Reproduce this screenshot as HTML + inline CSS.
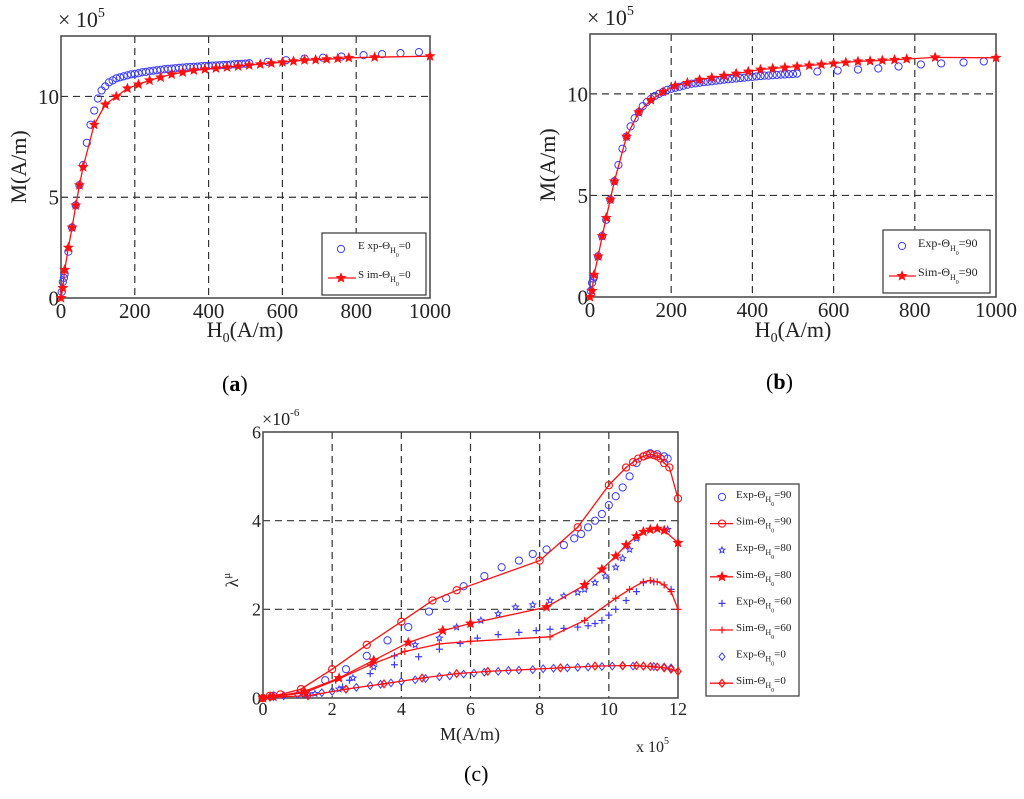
<!DOCTYPE html>
<html><head><meta charset="utf-8"><style>
html,body{margin:0;padding:0;background:#fff;}
svg{display:block;font-family:"Liberation Serif",serif;}
</style></head><body>
<svg id="fig" width="1024" height="799" viewBox="0 0 1024 799" xmlns="http://www.w3.org/2000/svg">
<g id="pa"></g>
<g id="pb"></g>
<g id="pc"></g>
<text x="222" y="391" font-size="22">(<tspan font-weight="bold">a</tspan>)</text>
<text x="766" y="389" font-size="22">(<tspan font-weight="bold">b</tspan>)</text>
<text x="464" y="781" font-size="22">(c)</text>
</svg>
<script>
// Panel a data (H in A/m, M in 1e5 A/m)
const aSimH=[0,5,10,20,30,40,50,60,90,120,150,180,210,240,270,300,330,360,390,420,450,480,510,540,570,600,630,660,690,720,750,780,850,1000];
const aSimM=[0,0.5,1.4,2.5,3.5,4.6,5.6,6.5,8.6,9.6,10.0,10.4,10.6,10.8,10.95,11.1,11.2,11.3,11.35,11.4,11.45,11.5,11.55,11.6,11.65,11.7,11.75,11.8,11.82,11.85,11.88,11.92,11.95,12.0];
const aExpH=[2,5,8,10,20,30,40,50,60,70,80,90,100,110,120,130,140,150,160,170,180,190,200,210,220,230,240,250,260,270,280,290,300,310,320,330,340,350,360,370,380,390,400,410,420,430,440,450,460,470,480,490,500,510,560,610,660,710,760,820,870,920,970];
const aExpM=[0.3,0.8,1.0,1.2,2.3,3.5,4.6,5.6,6.6,7.7,8.6,9.3,9.9,10.3,10.5,10.7,10.8,10.9,10.95,11.0,11.05,11.1,11.12,11.15,11.2,11.22,11.25,11.28,11.3,11.32,11.35,11.37,11.38,11.4,11.42,11.43,11.45,11.46,11.47,11.48,11.5,11.51,11.52,11.53,11.54,11.55,11.56,11.57,11.58,11.6,11.61,11.62,11.63,11.65,11.72,11.8,11.88,11.92,11.98,12.05,12.1,12.15,12.2];
// Panel b data
const bSimH=[0,5,10,20,30,40,50,60,90,120,150,180,210,240,270,300,330,360,390,420,450,480,510,540,570,600,630,660,690,720,750,780,850,1000];
const bSimM=[0,0.3,1.1,2.0,3.0,3.9,4.8,5.7,7.9,9.1,9.7,10.1,10.4,10.55,10.7,10.8,10.9,11.0,11.1,11.2,11.25,11.3,11.35,11.4,11.45,11.5,11.55,11.6,11.62,11.65,11.68,11.72,11.8,11.78];
const bExpH=[2,5,8,10,20,30,40,50,60,70,80,90,100,110,120,130,140,150,160,170,180,190,200,210,220,230,240,250,260,270,280,290,300,310,320,330,340,350,360,370,380,390,400,410,420,430,440,450,460,470,480,490,500,510,560,610,660,710,760,815,865,920,970];
const bExpM=[0.3,0.7,0.9,1.0,2.0,3.0,3.8,4.8,5.7,6.5,7.3,7.9,8.4,8.8,9.1,9.4,9.6,9.75,9.9,10.0,10.1,10.2,10.25,10.3,10.35,10.4,10.45,10.5,10.52,10.55,10.58,10.6,10.62,10.65,10.67,10.7,10.72,10.74,10.76,10.78,10.8,10.82,10.84,10.86,10.88,10.9,10.9,10.92,10.93,10.95,10.96,10.97,10.98,11.0,11.1,11.15,11.2,11.25,11.35,11.45,11.5,11.55,11.6];
// Panel c data (M in 1e5 A/m, lambda in 1e-6)
const c90SimM=[0,0.2,0.5,1.1,2.0,3.0,4.0,4.9,5.6,8.0,9.1,10.0,10.5,10.7,10.85,11.0,11.1,11.2,11.3,11.4,11.5,11.6,11.75,12.0];
const c90SimL=[0,0.05,0.08,0.2,0.65,1.2,1.72,2.2,2.43,3.1,3.85,4.8,5.2,5.32,5.4,5.45,5.48,5.5,5.48,5.45,5.4,5.3,5.2,4.5];
const c90ExpM=[0.3,1.2,1.8,2.4,3.0,3.6,4.2,4.8,5.3,5.8,6.4,6.9,7.4,7.8,8.2,8.7,9.0,9.2,9.4,9.6,9.8,10.0,10.2,10.4,10.6,10.8,11.0,11.2,11.4,11.6,11.7];
const c90ExpL=[0.05,0.1,0.4,0.65,0.95,1.3,1.6,1.95,2.25,2.52,2.75,2.95,3.1,3.25,3.35,3.45,3.6,3.7,3.85,4.0,4.15,4.35,4.55,4.75,5.0,5.3,5.45,5.52,5.5,5.45,5.4];
const c80SimM=[0,0.3,1.2,2.2,3.2,4.2,5.2,6.0,8.2,9.3,9.8,10.2,10.5,10.8,11.0,11.2,11.4,11.6,12.0];
const c80SimL=[0,0.03,0.15,0.45,0.85,1.25,1.52,1.68,2.05,2.55,2.9,3.2,3.45,3.65,3.75,3.8,3.82,3.78,3.5];
const c80ExpM=[0.3,1.5,2.2,2.6,3.2,4.4,5.1,5.6,6.3,6.8,7.3,7.8,8.3,8.7,9.1,9.3,9.6,9.9,10.2,10.4,10.6,10.8,11.0,11.2,11.4,11.7];
const c80ExpL=[0.03,0.1,0.2,0.45,0.7,1.2,1.35,1.6,1.75,1.9,2.05,2.1,2.2,2.3,2.38,2.45,2.6,2.75,2.95,3.15,3.35,3.6,3.75,3.8,3.82,3.8];
const c60SimM=[0,0.3,1.2,2.1,3.1,4.1,5.1,6.0,8.3,9.3,10.2,10.6,11.0,11.2,11.4,11.6,11.8,12.0];
const c60SimL=[0,0.03,0.12,0.4,0.75,1.05,1.22,1.28,1.38,1.75,2.25,2.45,2.62,2.65,2.62,2.55,2.4,2.0];
const c60ExpM=[2.3,2.5,3.1,3.8,3.8,4.5,5.1,5.7,6.2,6.8,7.4,7.9,8.3,8.7,9.1,9.4,9.6,9.8,10.0,10.2,10.5,10.8,11.0,11.3,11.6,11.8];
const c60ExpL=[0.25,0.4,0.55,0.75,0.95,0.93,1.1,1.23,1.35,1.43,1.48,1.52,1.55,1.57,1.6,1.63,1.68,1.75,1.87,2.0,2.2,2.4,2.6,2.62,2.55,2.45];
const c0SimM=[0,0.2,1.3,2.4,3.5,4.6,5.6,6.5,8.6,9.6,10.4,10.8,11.0,11.2,11.4,11.6,11.8,12.0];
const c0SimL=[0,0.02,0.05,0.2,0.32,0.45,0.55,0.6,0.68,0.72,0.73,0.73,0.72,0.71,0.7,0.68,0.65,0.6];
const c0ExpM=[0.3,0.6,1.0,1.3,1.7,2.0,2.4,2.7,3.1,3.4,3.7,4.0,4.4,4.7,5.1,5.4,5.8,6.1,6.4,6.8,7.1,7.4,7.8,8.1,8.4,8.8,9.1,9.4,9.8,10.1,10.4,10.7,11.0,11.3,11.6,11.8];
const c0ExpL=[0.03,0.05,0.08,0.1,0.12,0.15,0.2,0.24,0.28,0.31,0.34,0.37,0.41,0.44,0.48,0.5,0.54,0.56,0.58,0.6,0.62,0.63,0.64,0.66,0.67,0.68,0.69,0.7,0.71,0.72,0.72,0.72,0.72,0.71,0.7,0.68];
const abTicksX=[0,200,400,600,800,1000];
const abTicksY=[0,5,10];
const cTicksX=[0,2,4,6,8,10,12];
const cTicksY=[0,2,4,6];

const NS="http://www.w3.org/2000/svg";
function mk(parent,tag,attrs){const e=document.createElementNS(NS,tag);for(const k in attrs)e.setAttribute(k,attrs[k]);parent.appendChild(e);return e;}
function lin(d0,d1,r0,r1){return v=>r0+(v-d0)*(r1-r0)/(d1-d0);}
const BLUE="#3a3aff",RED="#ff1010";
function starPts(cx,cy,R,r,n){let p=[];for(let i=0;i<2*n;i++){const a=-Math.PI/2+i*Math.PI/n;const rr=i%2?r:R;p.push((cx+rr*Math.cos(a)).toFixed(1)+","+(cy+rr*Math.sin(a)).toFixed(1));}return p.join(" ");}
function marker(g,type,x,y,color){
 let e;
 if(type==="circle"){e=mk(g,"circle",{cx:x,cy:y,r:3.6,fill:"none",stroke:color,"stroke-width":1});}
 else if(type==="circledot"){e=mk(g,"g",{});mk(e,"circle",{cx:x,cy:y,r:3.6,fill:"none",stroke:color,"stroke-width":1.1});mk(e,"circle",{cx:x,cy:y,r:0.9,fill:color});}
 else if(type==="star"){e=mk(g,"polygon",{points:starPts(x,y,5,2.2,5),fill:color,stroke:color,"stroke-width":0.6});}
 else if(type==="smallstar"){e=mk(g,"polygon",{points:starPts(x,y,3.2,1.5,5),fill:"none",stroke:color,"stroke-width":1});}
 else if(type==="plus"){e=mk(g,"path",{d:`M${x-3.5},${y}H${x+3.5}M${x},${y-3.5}V${y+3.5}`,stroke:color,"stroke-width":1.2,fill:"none"});}
 else if(type==="diamond"){e=mk(g,"polygon",{points:`${x},${y-3.8} ${x+3},${y} ${x},${y+3.8} ${x-3},${y}`,fill:"none",stroke:color,"stroke-width":1});}
 else if(type==="diamonddot"){e=mk(g,"g",{});mk(e,"polygon",{points:`${x},${y-3.8} ${x+3},${y} ${x},${y+3.8} ${x-3},${y}`,fill:"none",stroke:color,"stroke-width":1.2});mk(e,"circle",{cx:x,cy:y,r:0.9,fill:color});}
 
 
 return e;
}
function drawSeries(g,xs,ys,sx,sy,line,mtype,color,name){
 const sg=mk(g,"g",{});
 
 
 if(line){const pts=xs.map((v,i)=>sx(v).toFixed(1)+","+sy(ys[i]).toFixed(1)).join(" ");
  const pl=mk(sg,"polyline",{points:pts,fill:"none",stroke:color,"stroke-width":1.3});
  
  }
 xs.forEach((v,i)=>marker(sg,mtype,sx(v),sy(ys[i]),color));
}
function axes(g,box,xd,yd,xt,yt,fs,pre){
 const sx=lin(xd[0],xd[1],box.x0,box.x1),sy=lin(yd[0],yd[1],box.y1,box.y0);
 const grid=mk(g,"g",{});
 
 
 xt.forEach(t=>{if(t===xd[0]||t===xd[1])return;const x=sx(t);mk(grid,"line",{x1:x,x2:x,y1:box.y0,y2:box.y1,stroke:"#333","stroke-width":1.2,"stroke-dasharray":"7,5"});});
 yt.forEach(t=>{if(t===yd[0]||t>=yd[1])return;const y=sy(t);mk(grid,"line",{x1:box.x0,x2:box.x1,y1:y,y2:y,stroke:"#333","stroke-width":1.2,"stroke-dasharray":"7,5"});});
 const fr=mk(g,"rect",{x:box.x0,y:box.y0,width:box.x1-box.x0,height:box.y1-box.y0,fill:"none",stroke:"#444","stroke-width":1.5});
 
 
 xt.forEach(t=>{const e=mk(g,"text",{x:sx(t),y:box.y1+fs*0.95,"font-size":fs,"text-anchor":"middle",fill:"#222"});e.textContent=t;
  
  });
 yt.forEach(t=>{const e=mk(g,"text",{x:box.x0-2,y:sy(t)+fs*0.35,"font-size":fs,"text-anchor":"end",fill:"#222"});e.textContent=t;
  
  });
 return {sx,sy};
}
function text(g,x,y,fs,str,name,extra){const e=mk(g,"text",Object.assign({x:x,y:y,"font-size":fs,fill:"#222"},extra||{}));e.innerHTML=str;
 
 return e;}

// Panel a
(function(){
 const g=document.getElementById("pa");
 const box={x0:61,x1:430,y0:36,y1:298};
 const {sx,sy}=axes(g,box,[0,1000],[0,13.0],abTicksX,abTicksY,21,"a");
 drawSeries(g,aExpH,aExpM,sx,sy,false,"circle",BLUE,"a-exp-series");
 drawSeries(g,aSimH,aSimM,sx,sy,true,"star",RED,"a-sim-series");
 text(g,58,27,22,"× 10<tspan font-size='14' dy='-10'>5</tspan>","a-y-multiplier");
 text(g,26,167,22,"M(A/m)","a-y-axis-title",{transform:"rotate(-90 26 167)","text-anchor":"middle"});
 text(g,245,337,22,"H<tspan font-size='14' dy='5'>0</tspan><tspan dy='-5'>(A/m)</tspan>","a-x-axis-title",{"text-anchor":"middle"});
 const lg=mk(g,"g",{});
 
 
 mk(lg,"rect",{x:322,y:233,width:104,height:62,fill:"#fff",stroke:"#444","stroke-width":1.3});
 marker(lg,"circle",341,249,BLUE);
 mk(lg,"line",{x1:328,x2:356,y1:278,y2:278,stroke:RED,"stroke-width":1.3});marker(lg,"star",341,278,RED);
 text(lg,358,249,11,"E xp-Θ<tspan font-size='8' dy='4'>H</tspan><tspan font-size='6' dy='4'>0</tspan><tspan dy='-8'>=0</tspan>","a-legend-exp");
 text(lg,358,278,11,"S im-Θ<tspan font-size='8' dy='4'>H</tspan><tspan font-size='6' dy='4'>0</tspan><tspan dy='-8'>=0</tspan>","a-legend-sim");
})();
// Panel b
(function(){
 const g=document.getElementById("pb");
 const box={x0:590,x1:996,y0:34,y1:297};
 const {sx,sy}=axes(g,box,[0,1000],[0,12.95],abTicksX,abTicksY,21,"b");
 drawSeries(g,bExpH,bExpM,sx,sy,false,"circle",BLUE,"b-exp-series");
 drawSeries(g,bSimH,bSimM,sx,sy,true,"star",RED,"b-sim-series");
 text(g,587,25,22,"× 10<tspan font-size='14' dy='-10'>5</tspan>","b-y-multiplier");
 text(g,555,165,22,"M(A/m)","b-y-axis-title",{transform:"rotate(-90 555 165)","text-anchor":"middle"});
 text(g,793,337,22,"H<tspan font-size='14' dy='5'>0</tspan><tspan dy='-5'>(A/m)</tspan>","b-x-axis-title",{"text-anchor":"middle"});
 const lg=mk(g,"g",{});
 
 
 mk(lg,"rect",{x:883,y:230,width:107,height:63,fill:"#fff",stroke:"#444","stroke-width":1.3});
 marker(lg,"circle",902,246,BLUE);
 mk(lg,"line",{x1:889,x2:916,y1:276,y2:276,stroke:RED,"stroke-width":1.3});marker(lg,"star",902,276,RED);
 text(lg,918,247,12,"Exp-Θ<tspan font-size='8' dy='4'>H</tspan><tspan font-size='6' dy='4'>0</tspan><tspan dy='-8'>=90</tspan>","b-legend-exp");
 text(lg,918,276,12,"Sim-Θ<tspan font-size='8' dy='4'>H</tspan><tspan font-size='6' dy='4'>0</tspan><tspan dy='-8'>=90</tspan>","b-legend-sim");
})();
// Panel c
(function(){
 const g=document.getElementById("pc");
 const box={x0:263,x1:678,y0:432,y1:698};
 const {sx,sy}=axes(g,box,[0,12],[0,6],cTicksX,cTicksY,18,"c");
 drawSeries(g,c0ExpM,c0ExpL,sx,sy,false,"diamond",BLUE,"c-exp-0-series");
 drawSeries(g,c60ExpM,c60ExpL,sx,sy,false,"plus",BLUE,"c-exp-60-series");
 drawSeries(g,c80ExpM,c80ExpL,sx,sy,false,"smallstar",BLUE,"c-exp-80-series");
 drawSeries(g,c90ExpM,c90ExpL,sx,sy,false,"circle",BLUE,"c-exp-90-series");
 drawSeries(g,c0SimM,c0SimL,sx,sy,true,"diamonddot",RED,"c-sim-0-series");
 drawSeries(g,c60SimM,c60SimL,sx,sy,true,"plus",RED,"c-sim-60-series");
 drawSeries(g,c80SimM,c80SimL,sx,sy,true,"star",RED,"c-sim-80-series");
 drawSeries(g,c90SimM,c90SimL,sx,sy,true,"circledot",RED,"c-sim-90-series");
 text(g,262,425,18,"×10<tspan font-size='11' dy='-9'>-6</tspan>","c-y-multiplier");
 text(g,238,580,18,"λ<tspan font-size='11' dy='-8'>μ</tspan>","c-y-axis-title",{transform:"rotate(-90 238 580)","text-anchor":"middle"});
 text(g,470,740,18,"M(A/m)","c-x-axis-title",{"text-anchor":"middle"});
 text(g,636,752,16,"x 10<tspan font-size='10' dy='-8'>5</tspan>","c-x-multiplier");
 const lg=mk(g,"g",{});
 
 
 mk(lg,"rect",{x:706,y:484,width:93,height:212,fill:"#fff",stroke:"#444","stroke-width":1.3});
 const entries=[["Exp","90","circle",BLUE,false],["Sim","90","circledot",RED,true],["Exp","80","smallstar",BLUE,false],["Sim","80","star",RED,true],["Exp","60","plus",BLUE,false],["Sim","60","plus",RED,true],["Exp","0","diamond",BLUE,false],["Sim","0","diamonddot",RED,true]];
 entries.forEach((en,i)=>{const y=497+i*26.6;
  if(en[4])mk(lg,"line",{x1:710,x2:733,y1:y,y2:y,stroke:RED,"stroke-width":1.3});
  marker(lg,en[2],722,y,en[3]);
  text(lg,736,y+1,11,en[0]+"-Θ<tspan font-size='8' dy='4'>H</tspan><tspan font-size='6' dy='4'>0</tspan><tspan dy='-8'>="+en[1]+"</tspan>","c-legend-entry");
 });
})();
</script>
</body></html>
